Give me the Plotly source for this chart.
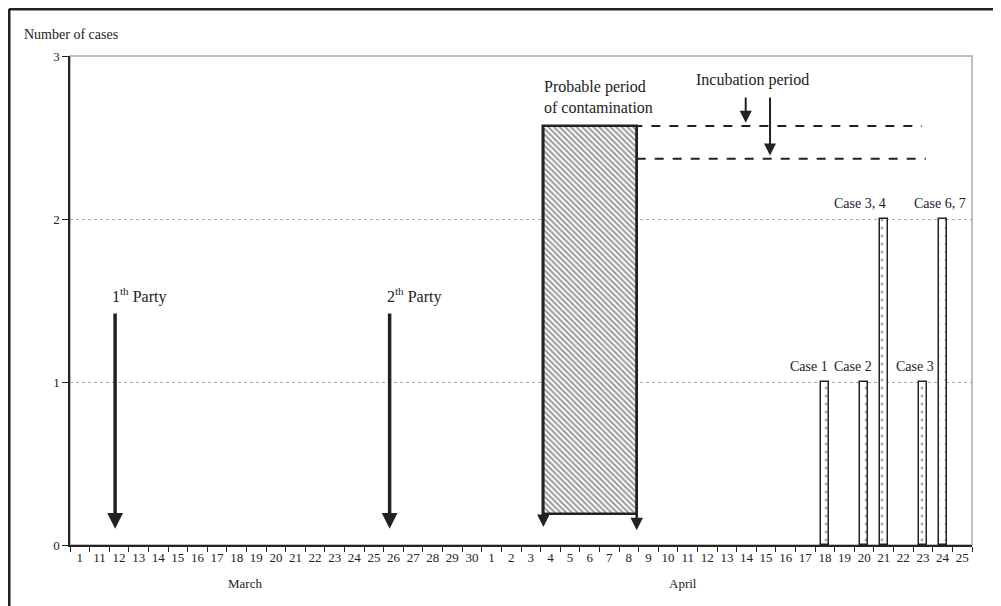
import plotly.graph_objects as go

# ---- data ----
march_days = ["1", "11", "12", "13", "14", "15", "16", "17", "18", "19", "20",
              "21", "22", "23", "24", "25", "26", "27", "28", "29", "30"]
april_days = ["1", "2", "3", "4", "5", "6", "7", "8", "9", "10", "11", "12", "13",
              "14", "15", "16", "17", "18", "19", "20", "21", "22", "23", "24", "25"]
day_labels = march_days + april_days

case_pos = [38, 40, 41, 43, 44]          # index into day_labels (April 18, 20, 21, 23, 24)
case_counts = [1, 1, 2, 1, 2]
case_labels = ["Case 1", "Case 2", "Case 3, 4", "Case 3", "Case 6, 7"]
case_label_x = [37.18, 39.43, 39.78, 42.6, 43.87]

party_pos = [1.8, 15.8]
party_labels = ["1<sup>th</sup> Party", "2<sup>th</sup> Party"]

contam_start, contam_end = 23.64, 28.4
contam_low, contam_high = 0.19, 2.57
incub_end_upper, incub_end_lower = 42.95, 43.15
incub_lower_y = 2.37

FONT = "Liberation Serif"
INK = "#222222"

fig = go.Figure()

# hatched probable-contamination period
fig.add_trace(go.Bar(
    x=[(contam_start + contam_end) / 2], y=[contam_high - contam_low], base=[contam_low],
    width=[contam_end - contam_start],
    marker=dict(color="white", line=dict(color=INK, width=2.5),
                pattern=dict(shape="\\", fgcolor="#333333", bgcolor="white", size=4, solidity=0.5)),
    hoverinfo="skip", showlegend=False))

# case bars
fig.add_trace(go.Bar(
    x=case_pos, y=case_counts, width=0.4,
    marker=dict(color="white", line=dict(color=INK, width=1.5),
                pattern=dict(shape=".", fgcolor="#555555", bgcolor="white", size=8, solidity=0.1)),
    showlegend=False))

annotations = []
# case labels
for lx, c, lab in zip(case_label_x, case_counts, case_labels):
    annotations.append(dict(x=lx, y=c, text=lab, showarrow=False, yanchor="bottom",
                            yshift=6, font=dict(family=FONT, size=14, color=INK)))
# party arrows and labels
for px, lab in zip(party_pos, party_labels):
    annotations.append(dict(x=px, y=0.1, ax=px, ay=1.43, xref="x", yref="y", axref="x", ayref="y",
                            text="", showarrow=True, arrowhead=2, arrowsize=0.9, arrowwidth=3.5,
                            arrowcolor=INK))
    annotations.append(dict(x=px - 0.26, y=1.53, text=lab, showarrow=False, xanchor="left",
                            font=dict(family=FONT, size=16, color=INK)))
# contamination edge arrows
for ex, tip in [(contam_start, 0.11), (contam_end, 0.09)]:
    annotations.append(dict(x=ex, y=tip, ax=ex, ay=contam_high, xref="x", yref="y", axref="x", ayref="y",
                            text="", showarrow=True, arrowhead=2, arrowsize=1.0, arrowwidth=2.5,
                            arrowcolor=INK))
# incubation arrows
for ix, tip in [(33.96, contam_high + 0.02), (35.2, incub_lower_y + 0.02)]:
    annotations.append(dict(x=ix, y=tip, ax=ix, ay=2.755, xref="x", yref="y", axref="x", ayref="y",
                            text="", showarrow=True, arrowhead=2, arrowsize=1.2, arrowwidth=2,
                            arrowcolor=INK))
annotations.append(dict(x=34.3, y=2.85, text="Incubation period", showarrow=False,
                        font=dict(family=FONT, size=16, color=INK)))
annotations.append(dict(x=contam_start - 0.05, y=2.75, text="Probable period<br>of contamination",
                        showarrow=False, xanchor="left", align="left",
                        font=dict(family=FONT, size=16, color=INK)))
# month labels
annotations.append(dict(x=8.4, y=-0.078, yref="paper", yanchor="middle", text="March", showarrow=False,
                        font=dict(family=FONT, size=13, color=INK)))
annotations.append(dict(x=30.76, y=-0.078, yref="paper", yanchor="middle", text="April", showarrow=False,
                        font=dict(family=FONT, size=13, color=INK)))
annotations.append(dict(x=-0.0532, y=1.043, xref="paper", yref="paper", text="Number of cases",
                        showarrow=False, xanchor="left", yanchor="middle",
                        font=dict(family=FONT, size=14, color=INK)))

shapes = [
    # plot area border (gray top/right)
    dict(type="rect", xref="paper", yref="paper", x0=0, x1=1, y0=0, y1=1,
         line=dict(color="#aaaaaa", width=1.5), layer="below"),
    # dashed incubation lines
    dict(type="line", xref="x", yref="y", x0=contam_start, x1=incub_end_upper, y0=contam_high, y1=contam_high,
         line=dict(color=INK, width=2, dash="dash")),
    dict(type="line", xref="x", yref="y", x0=contam_end, x1=incub_end_lower, y0=incub_lower_y, y1=incub_lower_y,
         line=dict(color=INK, width=2, dash="dash")),
    # outer frame (top and left visible)
    dict(type="line", xref="paper", yref="paper", x0=-0.0676, x1=1.1, y0=1.0961, y1=1.0961,
         line=dict(color=INK, width=3)),
    dict(type="line", xref="paper", yref="paper", x0=-0.0676, x1=-0.0676, y0=1.0961, y1=-0.2,
         line=dict(color=INK, width=3)),
]

fig.update_layout(
    width=1001, height=606,
    margin=dict(l=62, r=37, t=48, b=69),
    paper_bgcolor="white", plot_bgcolor="white",
    barmode="overlay", bargap=0,
    font=dict(family=FONT, size=13, color=INK),
    annotations=annotations, shapes=shapes,
    xaxis=dict(range=[-0.5, 45.5], tickmode="array", tickvals=list(range(len(day_labels))),
               ticktext=day_labels, ticks="", showgrid=False, zeroline=False,
               showline=True, linecolor=INK, linewidth=1.5,
               tickfont=dict(family=FONT, size=13, color=INK),
               minor=dict(tick0=-0.5, dtick=1, ticks="outside", ticklen=5, tickcolor=INK,
                          tickwidth=1, showgrid=False)),
    yaxis=dict(range=[0, 3], tickvals=[0, 1, 2, 3], ticks="outside", ticklen=6, tickcolor=INK,
               showline=True, linecolor=INK, linewidth=1.5, zeroline=False,
               showgrid=True, gridcolor="#aaaaaa", griddash="dot", gridwidth=1,
               tickfont=dict(family=FONT, size=13, color=INK)),
)

fig.write_html("out.html")
